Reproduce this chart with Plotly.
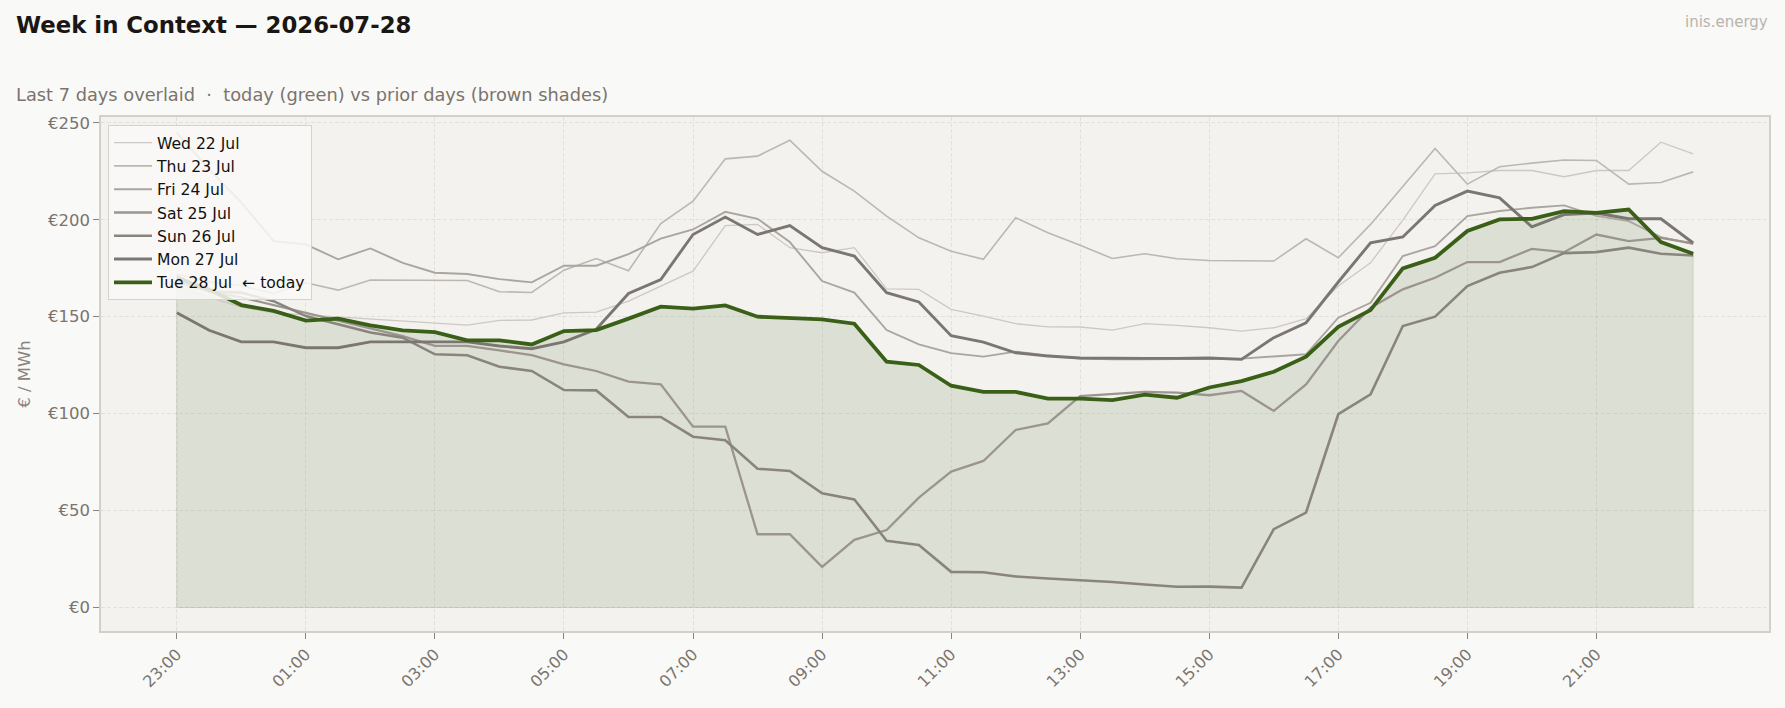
import plotly.graph_objects as go

# ---- data -------------------------------------------------------------
times = ["23:00", "23:30"] + [f"{h:02d}:{m:02d}" for h in range(0, 23) for m in (0, 30)]
times = times[:48]

tick_labels = ["23:00", "01:00", "03:00", "05:00", "07:00", "09:00",
               "11:00", "13:00", "15:00", "17:00", "19:00", "21:00"]
y_ticks = [0, 50, 100, 150, 200, 250]
y_tick_labels = ["€0", "€50", "€100", "€150", "€200", "€250"]

wed = [165, 160, 155, 152, 151, 150, 149, 148, 146.9, 145.7, 148.1, 148.3,
       152, 152.4, 158, 165.8, 173.5, 197, 197.6, 185.6, 183, 185.6, 164.4, 164.1,
       153.8, 150.3, 146.4, 144.8, 144.7, 143.1, 146.4, 145.5, 144.3, 142.6, 144.3, 149,
       165.8, 177.8, 199.8, 223.7, 224.2, 225.4, 225.4, 222.2, 225.4, 225.4, 240, 234]
thu = [172, 168, 166, 162, 167.5, 163.7, 168.9, 168.9, 168.9, 168.7, 162.9, 162.5,
       174, 180, 173.7, 198, 209.6, 231.4, 232.8, 241, 225, 214.8, 201.9, 190.7,
       183.8, 179.6, 201, 193.3, 186.8, 180, 182.5, 179.9, 179, 178.7, 178.7, 190.2,
       180.4, 197.6, 217.4, 236.8, 218.4, 227.3, 229.2, 230.8, 230.6, 218.4, 219.2, 224.7]
fri = [245, 226, 209, 189, 187.3, 179.6, 185.2, 177.8, 172.7, 172, 169.4, 167.7,
       176.3, 176.3, 182.3, 190.3, 195, 204.1, 200.5, 188.5, 168.4, 162.4, 143.1, 135.7,
       131.2, 129.4, 132, 130, 128.4, 128, 128, 128, 128.3, 128.4, 129.4, 130.6,
       149.5, 157.2, 181.3, 186.4, 201.9, 204.5, 206.2, 207.4, 202, 199.3, 191, 187.5]
sat = [168, 163, 160, 156, 152, 148, 144, 140, 135, 135, 132.6, 130.2,
       125.4, 122, 116.5, 115.1, 93.3, 93.3, 37.8, 37.8, 21, 34.9, 40, 56.7,
       70.1, 75.6, 91.6, 95, 109.1, 110.3, 111.2, 110.8, 109.5, 111.7, 101.4, 115.1,
       137.5, 154.6, 164.1, 170.1, 178.2, 178.2, 185, 183.3, 192.4, 189, 190.7, 187.8]
sun = [171, 163, 162.4, 158, 150.3, 146, 141.8, 139.2, 130.6, 130.1, 124.2, 122,
       112.2, 112, 98.3, 98.3, 88.1, 86.3, 71.6, 70.4, 58.9, 55.8, 34.4, 32.3,
       18.4, 18.2, 16, 15, 14.1, 13.2, 11.9, 10.7, 10.8, 10.3, 40.4, 49,
       99.7, 110, 145.2, 150, 165.8, 172.7, 175.6, 182.8, 183.3, 185.6, 182.5, 181.6]
mon = [152, 143, 137, 137, 134, 134, 137, 137, 137, 137, 134.9, 133.5,
       137, 143.5, 162, 169.2, 192.4, 201.4, 192.4, 197, 185.6, 181.3, 162.4, 157.6,
       140.2, 136.9, 131.4, 129.7, 128.7, 128.5, 128.5, 128.5, 128.7, 128, 139.2, 146.9,
       167.9, 188.1, 191.1, 207.4, 214.8, 211.3, 196.4, 202.7, 203.5, 200.5, 200.5, 188]
tue = [170, 164, 156, 153, 148, 149, 145.5, 143, 142, 137.8, 137.8, 135.7,
       142.6, 143.1, 149, 155.2, 154.2, 155.8, 150, 149.5, 148.6, 146.4, 126.8, 125.1,
       114.4, 111.2, 111.2, 107.7, 107.7, 107, 109.8, 108.2, 113.5, 116.8, 121.6, 129.4,
       144.8, 153.4, 174.9, 180.4, 194.2, 200.2, 200.5, 204.5, 203.6, 205.3, 188.5, 182.5]

prior_names = ["Wed 22 Jul", "Thu 23 Jul", "Fri 24 Jul", "Sat 25 Jul", "Sun 26 Jul", "Mon 27 Jul"]
prior_series = [wed, thu, fri, sat, sun, mon]
today_name = "Tue 28 Jul  ← today"

# ---- styles -----------------------------------------------------------
prior_colors = ["#cdc8c3", "#bdb7b2", "#aba59f", "#9b948f", "#8a847f", "#7c7672"]
prior_widths = [1.3, 1.6, 1.9, 2.3, 2.6, 2.9]
GREEN = "#3a5f17"

fig = go.Figure()

# shaded area under today
fig.add_trace(go.Scatter(
    x=times + [times[-1], times[0], times[0]],
    y=tue + [0, 0, tue[0]],
    mode="lines", fill="toself",
    fillcolor="rgba(58,95,23,0.12)",
    line=dict(color="rgba(58,95,23,0.15)", width=1),
    hoverinfo="skip", showlegend=False))

for name, vals, c, w in zip(prior_names, prior_series, prior_colors, prior_widths):
    fig.add_trace(go.Scatter(x=times, y=vals, mode="lines", name=name,
                             line=dict(color=c, width=w)))

fig.add_trace(go.Scatter(x=times, y=tue, mode="lines", name=today_name,
                         line=dict(color=GREEN, width=3.8)))

TICK = "#7b746e"
GRID = "rgba(0,0,0,0.065)"
fig.update_xaxes(
    type="category", categoryorder="array", categoryarray=times,
    range=[-2.35, 49.35],
    tickmode="array", tickvals=tick_labels, ticktext=tick_labels,
    tickangle=-45, tickfont=dict(family="DejaVu Sans", size=16, color=TICK),
    ticks="outside", ticklen=6, tickwidth=1.2, tickcolor="#8a847f",
    showgrid=True, gridcolor=GRID, griddash="4px,2px", gridwidth=1,
    showline=True, mirror=True, linecolor="#d3cfc9", linewidth=1.5,
    zeroline=False)

fig.update_yaxes(
    range=[-12.1, 253],
    tickmode="array", tickvals=y_ticks, ticktext=y_tick_labels,
    tickfont=dict(family="DejaVu Sans", size=16.5, color=TICK),
    ticks="outside", ticklen=6, tickwidth=1.2, tickcolor="#8a847f",
    showgrid=True, gridcolor=GRID, griddash="4px,2px", gridwidth=1,
    showline=True, mirror=True, linecolor="#d3cfc9", linewidth=1.5,
    zeroline=False,
    title=dict(text="€ / MWh", font=dict(family="DejaVu Sans", size=16.5, color="#8a837d"),
               standoff=13))

L, R, T, B = 101, 16, 117, 77
W, H = 1785, 708
pw, ph = W - L - R, H - T - B

def px(xp):
    return (xp - L) / pw

def py(yp):
    return (H - B - yp) / ph

fig.update_layout(
    width=W, height=H,
    margin=dict(l=L, r=R, t=T, b=B),
    paper_bgcolor="#f9f9f7", plot_bgcolor="#f3f2ee",
    font=dict(family="DejaVu Sans"),
    showlegend=True,
    legend=dict(x=px(108), y=py(125), xanchor="left", yanchor="top",
                bgcolor="rgba(249,249,247,0.85)", bordercolor="#d6d2cc", borderwidth=1,
                font=dict(family="DejaVu Sans", size=15.6, color="#111111"),
                itemwidth=38, tracegroupgap=0),
    annotations=[
        dict(text="<b>Week in Context — 2026-07-28</b>", xref="paper", yref="paper",
             x=px(14), y=py(25), xanchor="left", yanchor="middle", showarrow=False,
             font=dict(family="DejaVu Sans", size=22.8, color="#1a1614")),
        dict(text="Last 7 days overlaid  ·  today (green) vs prior days (brown shades)",
             xref="paper", yref="paper", x=px(14), y=py(95), xanchor="left", yanchor="middle",
             showarrow=False, font=dict(family="DejaVu Sans", size=17.8, color="#7b736d")),
        dict(text="inis.energy", xref="paper", yref="paper", x=px(1770), y=py(22),
             xanchor="right", yanchor="middle", showarrow=False,
             font=dict(family="DejaVu Sans", size=15, color="#b8b3ae")),
    ],
)

fig.write_html("out.html")
